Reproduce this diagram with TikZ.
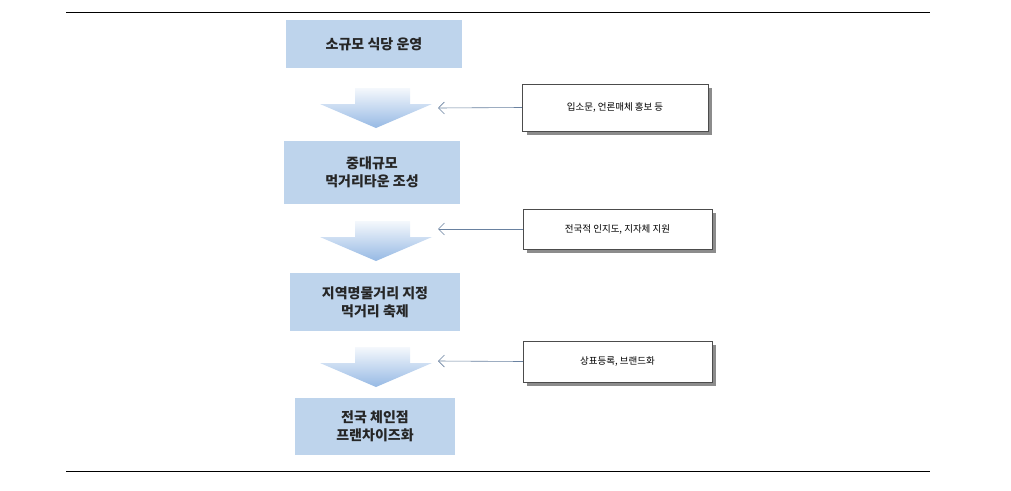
\documentclass[tikz,border=0pt]{standalone}
\usepackage{fontspec}
\setmainfont{Noto Sans CJK KR}
\usetikzlibrary{positioning, arrows.meta}
\definecolor{boxblue}{RGB}{190,212,236}
\definecolor{arrowblue}{RGB}{150,185,228}
\tikzset{step box/.style={fill=boxblue, minimum width=176pt, minimum height=50pt, align=center, font=\bfseries\fontsize{14}{18}\selectfont, text=black!85},
  note box/.style={draw=black!70, fill=white, minimum width=186pt, minimum height=42pt, font=\fontsize{9.5}{12}\selectfont},
  arrow/.style={-{Straight Barb[length=6pt,width=12pt]}, draw=arrowblue!70!black, line width=0.6pt}
}
\newcommand{\blockarrow}[1]{%
  \shade[top color=arrowblue!10, bottom color=arrowblue]
    (355,#1) -- (410,#1) -- (410,#1+16) -- (432,#1+16) -- (376,#1+40) -- (320,#1+16) -- (355,#1+16) -- cycle;}
\begin{document}
\begin{tikzpicture}[x=1pt, y=-1pt]
  \useasboundingbox (0,0) rectangle (1011,490);
  % Rules
  \draw[line width=0.8pt] (66,12) -- (930,12);
  \draw[line width=0.8pt] (66,471) -- (930,471);
  % Steps
  \node[step box, minimum height=48pt] (s1) at (374,44) {소규모 식당 운영};
  \node[step box, minimum height=63pt] (s2) at (372,172) {중대규모\\먹거리타운 조성};
  \node[step box, minimum height=58pt, minimum width=170pt] (s3) at (375,302) {지역명물거리 지정\\먹거리 축제};
  \node[step box, minimum height=57pt, minimum width=160pt] (s4) at (375,426) {전국 체인점\\프랜차이즈화};
  % Block arrows
  \blockarrow{88}
  \blockarrow{221}
  \blockarrow{347}
  \coordinate (a1) at (438,108);
  \coordinate (a2) at (438,229);
  \coordinate (a3) at (438,361);
  % Notes
  \fill[black!45] (527,88) rectangle (712,135);
  \node[note box, minimum height=47pt] (n1) at (615,107.5) {입소문, 언론매체 홍보 등};
  \fill[black!45] (527,213) rectangle (716,253);
  \node[note box, minimum width=189pt, minimum height=40pt] (n2) at (617.5,229) {전국적 인지도, 지자체 지원};
  \fill[black!45] (527,345) rectangle (716,386);
  \node[note box, minimum width=189pt, minimum height=41pt] (n3) at (617.5,361.5) {상표등록, 브랜드화};
  % Connections
  \draw[arrow] (n1.west) -- (a1);
  \draw[arrow] (n2.west) -- (a2);
  \draw[arrow] (n3.west) -- (a3);
\end{tikzpicture}
\end{document}
